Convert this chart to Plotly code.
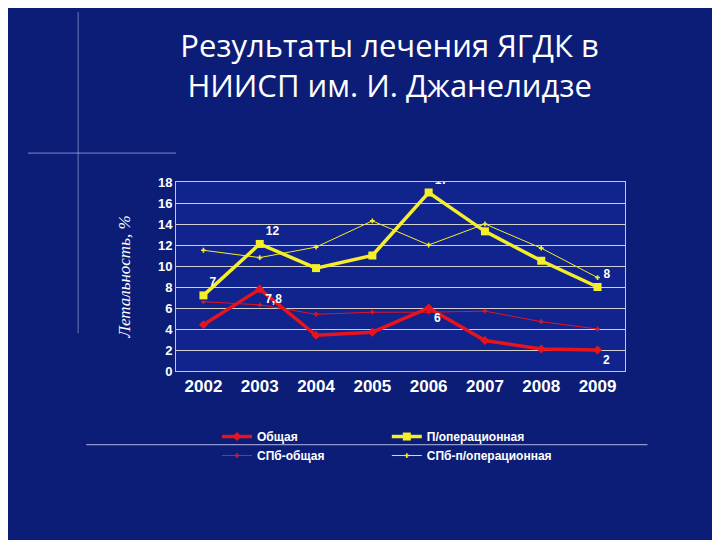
import plotly.graph_objects as go

# Data:
years = ["2002", "2003", "2004", "2005", "2006", "2007", "2008", "2009"]
obshaya = [4.4, 7.8, 3.4, 3.7, 6.0, 2.9, 2.1, 2.0]
p_oper = [7.2, 12.1, 9.8, 11.0, 17.0, 13.3, 10.5, 8.0]
spb_obshaya = [6.6, 6.3, 5.4, 5.6, 5.6, 5.7, 4.7, 4.0]
spb_p_oper = [11.5, 10.8, 11.8, 14.3, 12.0, 14.0, 11.7, 8.9]
obshaya_text = ["", "<b>7,8</b>", "", "", "<b>6</b>", "", "", "<b>2</b>"]
p_oper_text = ["<b>7</b>", "<b>12</b>", "", "", "<b>17</b>", "", "", "<b>8</b>"]

red = "#e8141c"
yellow = "#f5ee2a"
sans = "Liberation Sans"

fig = go.Figure()
fig.add_trace(go.Scatter(
    x=years, y=obshaya, name="<b>Общая</b>", mode="lines+markers+text",
    line=dict(color=red, width=3.5), marker=dict(symbol="diamond", size=7, color=red),
    text=obshaya_text, textposition="bottom right",
    textfont=dict(color="white", size=12, family=sans),
))
fig.add_trace(go.Scatter(
    x=years, y=p_oper, name="<b>П/операционная</b>", mode="lines+markers+text",
    line=dict(color=yellow, width=3.5), marker=dict(symbol="square", size=8, color=yellow),
    text=p_oper_text, textposition="top right",
    textfont=dict(color="white", size=12, family=sans),
))
fig.add_trace(go.Scatter(
    x=years, y=spb_obshaya, name="<b>СПб-общая</b>", mode="lines+markers",
    line=dict(color=red, width=1), marker=dict(symbol="cross", size=4, color=red),
))
fig.add_trace(go.Scatter(
    x=years, y=spb_p_oper, name="<b>СПб-п/операционная</b>", mode="lines+markers",
    line=dict(color=yellow, width=1), marker=dict(symbol="cross", size=4, color=yellow),
))

# Decorative star flare
fig.add_shape(type="line", xref="paper", yref="paper", x0=-0.218, x1=-0.218, y0=0.2, y1=1.9,
              line=dict(color="rgba(200,210,255,0.5)", width=1))
fig.add_shape(type="line", xref="paper", yref="paper", x0=-0.33, x1=0.0, y0=1.153, y1=1.153,
              line=dict(color="rgba(200,210,255,0.6)", width=1))
# Line under legend
fig.add_shape(type="line", xref="paper", yref="paper", x0=-0.2, x1=1.05, y0=-0.39, y1=-0.39,
              line=dict(color="rgba(220,220,255,0.8)", width=1))

fig.update_layout(
    width=720, height=540,
    paper_bgcolor="#0c1d78", plot_bgcolor="#11238c",
    margin=dict(l=168, r=103, t=174, b=177, autoexpand=False),
    title=dict(text="Результаты лечения ЯГДК в<br>НИИСП им. И. Джанелидзе",
               x=0.53, xanchor="center", y=0.91, yanchor="top",
               font=dict(family="Open Sans", size=31, color="white")),
    showlegend=True,
    legend=dict(orientation="h", x=0.47, xanchor="center", y=-0.27, yanchor="top",
                entrywidth=0, itemwidth=30,
                font=dict(family=sans, size=12, color="white"), bgcolor="rgba(0,0,0,0)"),
    font=dict(family=sans, color="white"),
)
fig.update_xaxes(showgrid=False, showline=True, linecolor="#c8c8c8", mirror=True, automargin=False,
                 tickfont=dict(family=sans, size=17, color="white"),
                 tickvals=years, ticktext=["<b>" + y + "</b>" for y in years])
fig.update_yaxes(range=[0, 18], dtick=2, showgrid=True, gridcolor="#d0d0d0", gridwidth=1,
                 showline=True, linecolor="#c8c8c8", mirror=True, zeroline=False, automargin=False,
                 tickvals=list(range(0, 19, 2)), ticktext=["<b>%d</b>" % v for v in range(0, 19, 2)],
                 tickfont=dict(family=sans, size=13, color="white"),
                 title=dict(text="<i>Летальность, %</i>", standoff=22,
                            font=dict(family="Liberation Serif", size=17, color="white")))

fig.write_html("out.html")
